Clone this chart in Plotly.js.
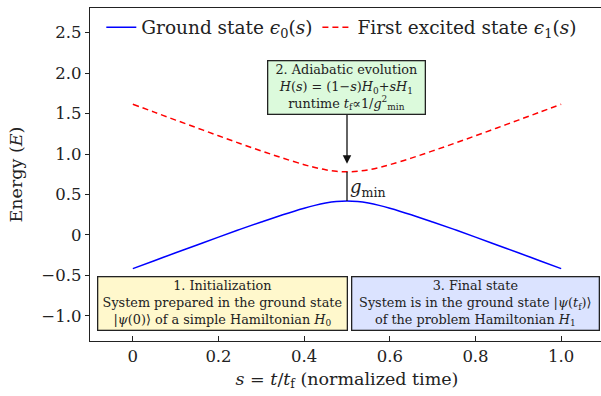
<!DOCTYPE html>
<html><head><meta charset="utf-8">
<script src="https://cdn.plot.ly/plotly-3.0.1.min.js"></script>
<style>html,body{margin:0;padding:0;overflow:hidden;background:#fff}</style>
</head><body>
<div id="chart" style="width:606px;height:396px"></div>
<script>
const s = [0, 0.05, 0.1, 0.15, 0.2, 0.25, 0.3, 0.35, 0.4, 0.425, 0.45, 0.475, 0.5, 0.525, 0.55, 0.575, 0.6, 0.65, 0.7, 0.75, 0.8, 0.85, 0.9, 0.95, 1.0];
const ground = [-0.416, -0.318, -0.22, -0.123, -0.026, 0.069, 0.161, 0.25, 0.331, 0.366, 0.394, 0.413, 0.42, 0.413, 0.394, 0.366, 0.331, 0.25, 0.161, 0.069, -0.026, -0.123, -0.22, -0.318, -0.416];
const excited = [1.616, 1.518, 1.42, 1.323, 1.226, 1.131, 1.039, 0.95, 0.869, 0.834, 0.806, 0.787, 0.78, 0.787, 0.806, 0.834, 0.869, 0.95, 1.039, 1.131, 1.226, 1.323, 1.42, 1.518, 1.616];
const xTicks = [0, 0.2, 0.4, 0.6, 0.8, 1.0];
const xTickText = ['0', '0.2', '0.4', '0.6', '0.8', '1.0'];
const yTicks = [-1.0, -0.5, 0, 0.5, 1.0, 1.5, 2.0, 2.5];
const yTickText = ['\u22121.0', '\u22120.5', '0', '0.5', '1.0', '1.5', '2.0', '2.5'];

const FONT = "'DejaVu Serif', serif";
const iMin = s.indexOf(0.5);
const gapTop = excited[iMin], gapBot = ground[iMin];

const traces = [
  {x: s, y: ground, mode: 'lines', name: 'Ground state <i>\u03F5</i><sub>0</sub>(<i>s</i>)',
   line: {color: '#0000ff', width: 1.5, shape: 'spline'}},
  {x: s, y: excited, mode: 'lines', name: 'First excited state <i>\u03F5</i><sub>1</sub>(<i>s</i>)',
   line: {color: '#ff0000', width: 1.5, dash: '6px,4px', shape: 'spline'}}
];

const boxFont = {family: FONT, size: 12.8, color: '#222'};
const layout = {
  width: 606, height: 396,
  margin: {l: 90, r: 2, t: 8, b: 55},
  paper_bgcolor: '#fff', plot_bgcolor: '#fff',
  font: {family: FONT, size: 17, color: '#222'},
  showlegend: true,
  legend: {orientation: 'h', x: 0.022, y: 0.998, xanchor: 'left', yanchor: 'top',
           bgcolor: 'rgba(0,0,0,0)', font: {family: FONT, size: 18.5, color: '#222'},
           itemwidth: 30, tracegroupgap: 0},
  xaxis: {range: [-0.1, 1.1], tickvals: xTicks, ticktext: xTickText, ticks: 'inside', ticklen: 5,
          tickcolor: '#222', showline: true, linecolor: '#222', linewidth: 1.3, mirror: true,
          showgrid: false, zeroline: false, tickfont: {family: FONT, size: 16.5, color: '#222'},
          title: {text: '<i>s</i> = <i>t</i>/<i>t</i><sub>f</sub> (normalized time)', font: {family: FONT, size: 17.5, color: '#222'}, standoff: 7}},
  yaxis: {range: [-1.31, 2.805], tickvals: yTicks, ticktext: yTickText, ticks: 'outside', ticklen: 4,
          tickcolor: '#222', showline: true, linecolor: '#222', linewidth: 1.3, mirror: true,
          showgrid: false, zeroline: false, tickfont: {family: FONT, size: 16.5, color: '#222'},
          title: {text: 'Energy (<i>E</i>)', font: {family: FONT, size: 17.5, color: '#222'}, standoff: 14}},
  shapes: [
    {type: 'line', xref: 'x', yref: 'y', x0: s[iMin], x1: s[iMin], y0: gapBot, y1: gapTop,
     line: {color: '#111', width: 1.3}}
  ],
  annotations: [
    {xref: 'x', yref: 'y', x: s[iMin], y: gapTop + 0.1, ax: s[iMin], ay: 1.5, axref: 'x', ayref: 'y',
     text: '', showarrow: true, arrowhead: 2, arrowsize: 1.3, arrowwidth: 1.3, arrowcolor: '#111'},
    {xref: 'x', yref: 'y', x: s[iMin], y: (gapTop + gapBot) / 2 - 0.02, xanchor: 'left', xshift: 1,
     text: '<i>g</i><sub>min</sub>', showarrow: false, font: {family: FONT, size: 18, color: '#222'}},
    {xref: 'x', yref: 'y', x: 0.499, y: 1.827, showarrow: false,
     text: '2. Adiabatic evolution<br><i>H</i>(<i>s</i>) = (1\u2212<i>s</i>)<i>H</i><sub>0</sub>+<i>sH</i><sub>1</sub><br>runtime <i>t</i><sub>f</sub>\u221D1/<i>g</i><sup>2</sup><sub>min</sub>',
     bgcolor: '#dcfadc', bordercolor: '#222', borderwidth: 1.3, borderpad: 1, width: 154,
     font: boxFont},
    {xref: 'x', yref: 'y', x: 0.2085, y: -0.847, showarrow: false,
     text: '1. Initialization<br>System prepared in the ground state<br>|<i>\u03C8</i>(0)\u27E9 of a simple Hamiltonian <i>H</i><sub>0</sub>',
     bgcolor: '#fff8cc', bordercolor: '#222', borderwidth: 1.3, borderpad: 1, width: 246,
     font: boxFont},
    {xref: 'x', yref: 'y', x: 0.799, y: -0.847, showarrow: false,
     text: '3. Final state<br>System is in the ground state |<i>\u03C8</i>(<i>t</i><sub>f</sub>)\u27E9<br>of the problem Hamiltonian <i>H</i><sub>1</sub>',
     bgcolor: '#dbe3ff', bordercolor: '#222', borderwidth: 1.3, borderpad: 1, width: 244,
     font: boxFont}
  ]
};
Plotly.newPlot('chart', traces, layout, {displayModeBar: false, staticPlot: true});
</script>
</body></html>
